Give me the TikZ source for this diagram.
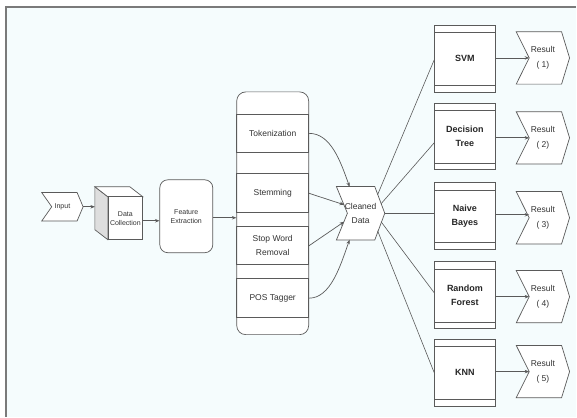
\documentclass[tikz,border=0pt]{standalone}
\usepackage{fontspec}
\setmainfont{Liberation Sans}
\usetikzlibrary{arrows.meta}
\definecolor{bgc}{HTML}{F5FCFD}
\definecolor{lcol}{HTML}{5A5A5A}
\definecolor{txt}{HTML}{333333}
\definecolor{frm}{HTML}{7A7A7A}
\definecolor{sidec}{HTML}{DEDEDE}
\pgfdeclarelayer{bg}\pgfdeclarelayer{mid}\pgfsetlayers{bg,mid,main}
\newcommand\mkchev[3]{%
  \begin{pgfonlayer}{mid}
  \draw[draw=lcol, fill=white, line width=0.7pt] (#1.north west) -- ([xshift=-#3pt]#1.north east) -- (#1.east) -- ([xshift=-#3pt]#1.south east) -- (#1.south west) -- ([xshift=#2pt]#1.west) -- cycle;
  \end{pgfonlayer}}
\begin{document}
\begin{tikzpicture}[x=1pt,y=-1pt,
  every node/.style={font=\fontsize{8.5}{14}\selectfont, text=txt, align=center, inner sep=0pt},
  box/.style={draw=lcol, fill=white, line width=0.7pt},
  band/.style={draw=lcol, line width=0.7pt, minimum width=72pt},
  small/.style={font=\fontsize{7}{9}\selectfont},
  clf/.style={box, minimum width=61pt, minimum height=67pt, font=\fontsize{9}{14}\selectfont\bfseries, text=black!85},
  chev/.style={minimum width=53pt, minimum height=52pt, font=\fontsize{8.5}{15}\selectfont},
  arr/.style={draw=lcol, line width=0.7pt, -{Stealth[length=4.5pt,width=3.5pt]}},
  conn/.style={draw=lcol, line width=0.6pt},
]
% background and frame
\begin{pgfonlayer}{bg}
\fill[white] (0,0) rectangle (577,417);
\fill[bgc] (6,7) rectangle (577,417);
\end{pgfonlayer}
\draw[frm, line width=1.3pt] (6,417) -- (6,7) -- (577,7);

% Input
\node[small, minimum width=41pt, minimum height=28pt] (in) at (62.5,207) {Input};
\mkchev{in}{10}{6}

% Data collection cube
\node[box, small, minimum width=35pt, minimum height=43pt] (dc) at (125.5,218.5) {Data\\Collection};
\begin{pgfonlayer}{mid}
\draw[draw=lcol, fill=sidec, line width=0.7pt] (95,187) -- (108,197) -- (108,240) -- (95,230) -- cycle;
\draw[draw=lcol, fill=white, line width=0.7pt] (95,187) -- (130,187) -- (143,197) -- (108,197) -- cycle;
\end{pgfonlayer}
\coordinate (cubeL) at (95,207);

% Feature extraction
\node[box, small, rounded corners=8pt, minimum width=53pt, minimum height=73pt] (fe) at (186.5,216.5) {Feature\\Extraction};

% Preprocessing column
\node[box, rounded corners=9pt, minimum width=72pt, minimum height=243pt] (col) at (273,213.5) {};
\node[band, minimum height=39pt] (tok) at (273,133.5) {Tokenization};
\node[band, minimum height=39pt] (stem) at (273,193.5) {Stemming};
\node[band, minimum height=38pt] (stop) at (273,246) {Stop Word\\Removal};
\node[band, minimum height=39pt] (pos) at (273,298.5) {POS Tagger};

% Cleaned data
\node[minimum width=48pt, minimum height=53pt] (cd) at (361,213.5) {Cleaned\\Data};
\mkchev{cd}{11}{10}
\coordinate (cdA) at (350,187);
\coordinate (cdB) at (344.5,205);
\coordinate (cdC) at (344.5,222);
\coordinate (cdD) at (350,240);
\coordinate (cdo1) at (378,195);
\coordinate (cdo2) at (381.5,204);
\coordinate (cdo4) at (381.5,222);
\coordinate (cdo5) at (378,231);

% classifiers
\node[clf] (svm) at (465.5,58.5) {SVM};
\node[clf] (dt) at (465.5,136.5) {Decision\\Tree};
\node[clf] (nb) at (465.5,216) {Naive\\Bayes};
\node[clf] (rf) at (465.5,295.5) {Random\\Forest};
\node[clf] (knn) at (465.5,373) {KNN};
\foreach \b in {svm,dt,nb,rf,knn}{
  \draw[conn] ([yshift=-8pt]\b.north west) -- ([yshift=-8pt]\b.north east);
  \draw[conn] ([yshift=7pt]\b.south west) -- ([yshift=7pt]\b.south east);
}

% results
\node[chev] (r1) at (543.5,58) {Result\\( 1)};
\node[chev] (r2) at (543.5,138) {Result\\( 2)};
\node[chev] (r3) at (543.5,218) {Result\\( 3)};
\node[chev] (r4) at (543.5,297) {Result\\( 4)};
\node[chev] (r5) at (543.5,372) {Result\\( 5)};
\foreach \r in {r1,r2,r3,r4,r5}{\mkchev{\r}{13}{8}}

% connectors
\draw[arr] (in.east) -- (cubeL);
\draw[arr] ([yshift=-2.5pt]dc.east) -- ([yshift=-2.5pt]dc.east -| fe.west);
\draw[arr] ([yshift=-1.5pt]fe.east) -- ([yshift=-1.5pt]fe.east -| col.west);

\draw[arr] (tok.east) .. controls +(22,0) and +(-9,-25) .. (cdA);
\draw[arr] (stem.east) -- (cdB);
\draw[arr] (stop.east) -- (cdC);
\draw[arr] (pos.east) .. controls +(22,0) and +(-9,25) .. (cdD);

\draw[conn] (cdo1) -- ([yshift=-1.5pt]svm.west);
\draw[conn] (cdo2) -- ([yshift=-6.5pt]dt.west);
\draw[conn] (cd.east) -- (cd.east -| nb.west);
\draw[conn] (cdo4) -- ([yshift=2.5pt]rf.west);
\draw[conn] (cdo5) -- (knn.west);

\draw[arr] (svm.east |- r1.west) -- ([xshift=13pt]r1.west);
\draw[arr] (dt.east |- r2.west) -- ([xshift=13pt]r2.west);
\draw[arr] ([yshift=3pt]nb.east |- r3.west) -- ([xshift=13pt,yshift=3pt]r3.west);
\draw[arr] (rf.east |- r4.west) -- ([xshift=13pt]r4.west);
\draw[arr] (knn.east |- r5.west) -- ([xshift=13pt]r5.west);
\end{tikzpicture}
\end{document}
